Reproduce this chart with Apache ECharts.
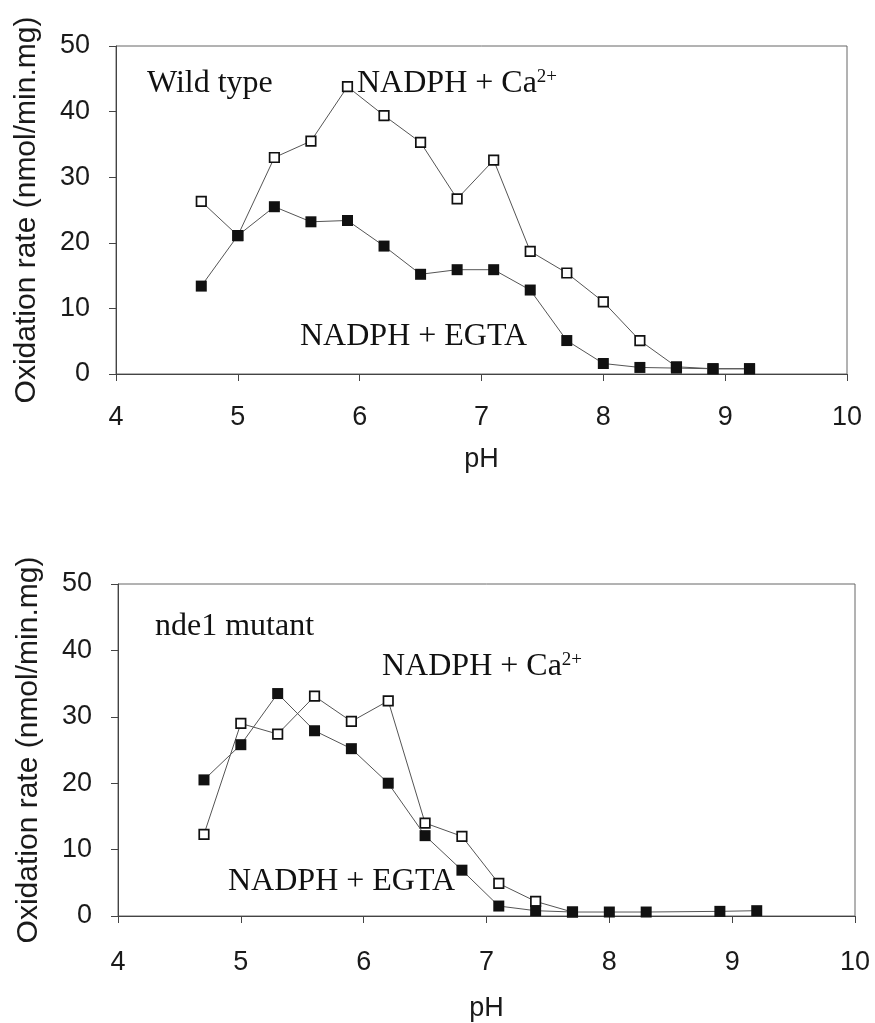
<!DOCTYPE html>
<html>
<head>
<meta charset="utf-8">
<script src="https://cdn.jsdelivr.net/npm/echarts@6/dist/echarts.min.js"></script>
<style>
  html, body { margin: 0; padding: 0; background: #fff; }
  #main { width: 875px; height: 1023px; }
</style>
</head>
<body>
<div id="main"></div>
<script>
// wild type
var phWild = [4.7, 5.0, 5.3, 5.6, 5.9, 6.2, 6.5, 6.8, 7.1, 7.4, 7.7, 8.0, 8.3, 8.6, 8.9, 9.2];
var wildCa = [26.3, 21.1, 33.0, 35.5, 43.8, 39.4, 35.3, 26.7, 32.6, 18.7, 15.4, 11.0, 5.1, 1.1, 0.8, 0.8];
var wildEgta = [13.4, 21.1, 25.5, 23.2, 23.4, 19.5, 15.2, 15.9, 15.9, 12.8, 5.1, 1.6, 1.0, 0.9, 0.8, 0.8];

// nde1 mutant
var phMutCa = [4.7, 5.0, 5.3, 5.6, 5.9, 6.2, 6.5, 6.8, 7.1, 7.4, 7.7];
var mutCa = [12.3, 29.0, 27.4, 33.1, 29.3, 32.4, 14.0, 12.0, 4.9, 2.2, 0.6];
var phMutEgta = [4.7, 5.0, 5.3, 5.6, 5.9, 6.2, 6.5, 6.8, 7.1, 7.4, 7.7, 8.0, 8.3, 8.9, 9.2];
var mutEgta = [20.5, 25.8, 33.5, 27.9, 25.2, 20.0, 12.1, 6.9, 1.5, 0.8, 0.6, 0.6, 0.6, 0.7, 0.8];

var xTicks = [4, 5, 6, 7, 8, 9, 10];
var yTicks = [0, 10, 20, 30, 40, 50];

function pairs(xs, ys) {
  return xs.map(function (x, i) { return [x, ys[i]]; });
}

var sans = '"Liberation Sans", Arial, sans-serif';
var serif = '"Liberation Serif", "Times New Roman", serif';

function xAxis(idx, margin, gap) {
  return {
    type: 'value', gridIndex: idx,
    min: xTicks[0], max: xTicks[xTicks.length - 1], interval: 1,
    name: 'pH', nameLocation: 'middle', nameGap: gap,
    nameTextStyle: { fontFamily: sans, fontSize: 27, color: '#1a1a1a' },
    axisLine: { onZero: false, lineStyle: { color: '#444', width: 1 } },
    axisTick: { show: true, inside: false, length: 7, lineStyle: { color: '#444' } },
    axisLabel: { margin: margin, fontFamily: sans, fontSize: 27, color: '#1a1a1a' },
    splitLine: { show: false }
  };
}

function yAxis(idx) {
  return {
    type: 'value', gridIndex: idx,
    min: yTicks[0], max: yTicks[yTicks.length - 1], interval: 10,
    name: 'Oxidation rate (nmol/min.mg)', nameLocation: 'middle', nameGap: 74,
    nameTextStyle: { fontFamily: sans, fontSize: 30, color: '#1a1a1a' },
    axisLine: { show: true, lineStyle: { color: '#444', width: 1 } },
    axisTick: { show: true, inside: false, length: 7, lineStyle: { color: '#444' } },
    axisLabel: { margin: 26, fontFamily: sans, fontSize: 27, color: '#1a1a1a' },
    splitLine: { show: false }
  };
}

function caSeries(idx, data) {
  return {
    type: 'line', xAxisIndex: idx, yAxisIndex: idx, data: data,
    symbol: 'rect', symbolSize: 9.5,
    itemStyle: { color: '#fff', borderColor: '#111', borderWidth: 1.7 },
    lineStyle: { color: '#555', width: 1 },
    animation: false, z: 2
  };
}

function egtaSeries(idx, data) {
  return {
    type: 'line', xAxisIndex: idx, yAxisIndex: idx, data: data,
    symbol: 'rect', symbolSize: 11,
    itemStyle: { color: '#111', borderWidth: 0 },
    lineStyle: { color: '#555', width: 1 },
    animation: false, z: 3
  };
}

var rich = { sup: { fontFamily: serif, fontSize: 19, fill: '#111', verticalAlign: 'top', lineHeight: 32 } };

function label(x, y, text) {
  return {
    type: 'text', x: x, y: y,
    style: { text: text, font: '32px ' + serif, fill: '#111', verticalAlign: 'bottom', rich: rich }
  };
}

var chartDom = document.getElementById('main');
var myChart = echarts.init(chartDom);
var option = {
  backgroundColor: '#fff',
  animation: false,
  grid: [
    { left: 116, top: 46, width: 731, height: 328, show: true, borderColor: '#666', borderWidth: 1, backgroundColor: 'transparent' },
    { left: 118, top: 584, width: 737, height: 333, show: true, borderColor: '#666', borderWidth: 1, backgroundColor: 'transparent' }
  ],
  xAxis: [xAxis(0, 30, 72), xAxis(1, 33, 79)],
  yAxis: [yAxis(0), yAxis(1)],
  series: [
    caSeries(0, pairs(phWild, wildCa)),
    egtaSeries(0, pairs(phWild, wildEgta)),
    caSeries(1, pairs(phMutCa, mutCa)),
    egtaSeries(1, pairs(phMutEgta, mutEgta))
  ],
  graphic: [
    label(147, 100, 'Wild type'),
    label(357, 100, 'NADPH + Ca{sup|2+}'),
    label(300, 353, 'NADPH + EGTA'),
    label(155, 643, 'nde1 mutant'),
    label(382, 683, 'NADPH + Ca{sup|2+}'),
    label(228, 898, 'NADPH + EGTA')
  ]
};
myChart.setOption(option);
</script>
</body>
</html>
